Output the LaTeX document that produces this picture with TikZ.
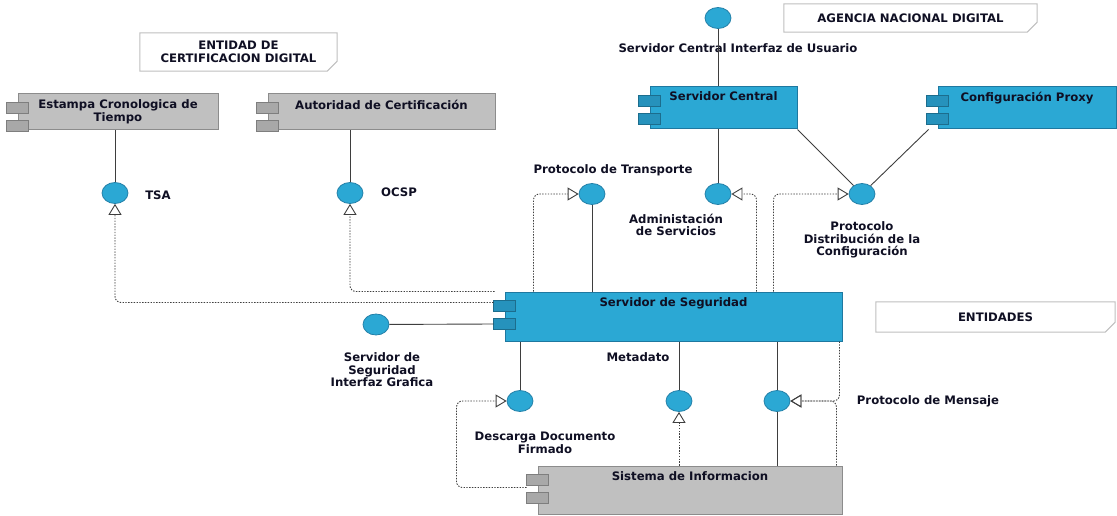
\documentclass[tikz,border=0pt]{standalone}
\usepackage{fontspec}
\setmainfont{DejaVu Sans}
\usetikzlibrary{arrows.meta, shapes.geometric}
\definecolor{CompBlue}{RGB}{43,168,212}
\definecolor{CompBlueLine}{RGB}{30,120,160}
\definecolor{PortBlue}{RGB}{38,146,188}
\definecolor{CompGray}{RGB}{192,192,192}
\definecolor{CompGrayLine}{RGB}{140,140,140}
\definecolor{PortGray}{RGB}{168,168,168}
\definecolor{IfaceLine}{RGB}{36,128,168}
\definecolor{LinkDark}{RGB}{62,62,62}
\definecolor{NoteLine}{RGB}{190,190,190}
\definecolor{TextDark}{RGB}{15,15,35}

% the two small port boxes on the left side of a component
\newcommand{\compports}[2]{%
  \draw[fill=#2, draw=#2!75!black, line width=0.8pt] ([xshift=-11pt,yshift=-9pt]#1.north west) rectangle ++(22pt,-11pt);
  \draw[fill=#2, draw=#2!75!black, line width=0.8pt] ([xshift=-11pt,yshift=-27pt]#1.north west) rectangle ++(22pt,-11pt);}
% note frame with the cut corner
\newcommand{\notecut}[1]{%
  \draw[NoteLine, line width=1pt] (#1.north west) -- (#1.north east) -- ([yshift=10pt]#1.south east) -- ([xshift=-10pt]#1.south east) -- (#1.south west) -- cycle;}

\begin{document}
\begin{tikzpicture}[x=1pt, y=-1pt,
    lbl/.style={font=\fontsize{11.7}{12.5}\selectfont\bfseries, text=TextDark, align=center, inner sep=1pt},
    bluecomp/.style={draw=CompBlueLine, fill=CompBlue, line width=1pt, inner sep=0},
    graycomp/.style={draw=CompGrayLine, fill=CompGray, line width=1pt, inner sep=0},
    iface/.style={ellipse, draw=IfaceLine, fill=CompBlue, line width=0.8pt, minimum width=26pt, minimum height=21pt, inner sep=0},
    link/.style={draw=LinkDark, line width=0.9pt},
    realize/.style={draw=LinkDark, line width=0.9pt, dash pattern=on 1.4pt off 1.4pt, rounded corners=6pt, -{Triangle[open, length=11pt, width=13pt]}},
    note/.style={lbl, minimum width=#1, minimum height=30pt}]
  \useasboundingbox (0,0) rectangle (1117,516);

  % notes
  \node[note=197pt, minimum height=38pt] (entidadNote) at (238.5,52) {ENTIDAD DE\\CERTIFICACION DIGITAL};
  \node[note=253pt, minimum height=28pt] (agenciaNote) at (910.5,18) {AGENCIA NACIONAL DIGITAL};
  \node[note=239pt] (entidadesNote) at (995.5,317) {ENTIDADES};
  \notecut{entidadNote} \notecut{agenciaNote} \notecut{entidadesNote}

  % components
  \node[graycomp, minimum width=200pt, minimum height=36pt, label={[lbl, anchor=north, yshift=-5pt]north:Estampa Cronologica de\\Tiempo}] (estampa) at (118,112) {};
  \node[graycomp, minimum width=227pt, minimum height=36pt, label={[lbl, anchor=north, yshift=-5pt]north:Autoridad de Certificación}] (autoridad) at (381.5,112) {};
  \node[bluecomp, minimum width=147pt, minimum height=42pt, label={[lbl, anchor=north, yshift=-4pt]north:Servidor Central}] (central) at (723.5,108) {};
  \node[bluecomp, minimum width=178pt, minimum height=42pt, label={[lbl, anchor=north, yshift=-4pt]north:Configuración Proxy}] (proxy) at (1027,108) {};
  \node[bluecomp, minimum width=337pt, minimum height=49pt, label={[lbl, anchor=north, yshift=-5pt]north:Servidor de Seguridad}] (seguridad) at (673.5,316.5) {};
  \node[graycomp, minimum width=304pt, minimum height=48pt, label={[lbl, anchor=north, yshift=-5pt]north:Sistema de Informacion}] (sistema) at (690,490) {};
  \compports{estampa}{PortGray} \compports{autoridad}{PortGray}
  \compports{central}{PortBlue} \compports{proxy}{PortBlue}
  \compports{seguridad}{PortBlue} \compports{sistema}{PortGray}

  % interfaces
  \node[iface] (ui) at (718,18) {};
  \node[iface] (tsa) at (115,193) {};
  \node[iface] (ocsp) at (350,193) {};
  \node[iface] (transp) at (592,194) {};
  \node[iface] (admin) at (718,194) {};
  \node[iface] (distrib) at (862,194) {};
  \node[iface] (gui) at (376,324.5) {};
  \node[iface] (descarga) at (520,401) {};
  \node[iface] (meta) at (679,401) {};
  \node[iface] (mensaje) at (777,401) {};

  % labels
  \node[lbl] (uiL) at (738,48) {Servidor Central Interfaz de Usuario};
  \node[lbl] (tsaL) at (158,195) {TSA};
  \node[lbl] (ocspL) at (399,192) {OCSP};
  \node[lbl] (transpL) at (613,170) {Protocolo de Transporte};
  \node[lbl] (adminL) at (676,225) {Administación\\de Servicios};
  \node[lbl] (distribL) at (862,240) {Protocolo\\Distribución de la\\Configuración};
  \node[lbl] (guiL) at (382,370) {Servidor de\\Seguridad\\Interfaz Grafica};
  \node[lbl] (metaL) at (638,357) {Metadato};
  \node[lbl] (descargaL) at (545,443) {Descarga Documento\\Firmado};
  \node[lbl] (mensajeL) at (928,401) {Protocolo de Mensaje};

  % provided interfaces
  \draw[link] (ui) -- (ui |- central.north);
  \draw[link] (tsa) -- (tsa |- estampa.south);
  \draw[link] (ocsp) -- (ocsp |- autoridad.south);
  \draw[link] (admin) -- (admin |- central.south);
  \draw[link] (central.south east) -- (distrib);
  \draw[link] ([xshift=-9pt]proxy.south west) -- (distrib);
  \draw[link] (transp) -- (transp |- seguridad.north);
  \draw[link] (gui) -- ([xshift=-11pt,yshift=-32.5pt]seguridad.north west);
  \draw[link] (descarga) -- (descarga |- seguridad.south);
  \draw[link] (meta) -- (meta |- seguridad.south);
  \draw[link] (mensaje) -- (mensaje |- seguridad.south);
  \draw[link] (mensaje) -- (mensaje |- sistema.north);

  % required interfaces
  \coordinate (tsaFrom) at ([xshift=-11pt,yshift=-11pt]seguridad.north west);
  \coordinate (ocspFrom) at ([xshift=-10pt]seguridad.north west);
  \coordinate (transpFrom) at ([xshift=29pt]seguridad.north west);
  \coordinate (adminFrom) at ([xshift=252pt]seguridad.north west);
  \coordinate (distribFrom) at ([xshift=269pt]seguridad.north west);
  \coordinate (descargaFrom) at ([xshift=-11pt,yshift=-22pt]sistema.north west);
  \coordinate (mensajeFromA) at ([xshift=-3pt]seguridad.south east);
  \coordinate (mensajeFromB) at ([xshift=-6pt]sistema.north east);
  \draw[realize] (tsaFrom) -| (tsa.south);
  \draw[realize] (ocspFrom) -| (ocsp.south);
  \draw[realize] (transpFrom) |- (transp.west);
  \draw[realize] (adminFrom) |- (admin.east);
  \draw[realize] (distribFrom) |- (distrib.west);
  \draw[realize] (descargaFrom) -- ++(-70pt,0pt) |- (descarga.west);
  \draw[realize] (meta |- sistema.north) -- (meta.south);
  \draw[realize] (mensajeFromA) |- (mensaje.east);
  \draw[realize] (mensajeFromB) |- (mensaje.east);
\end{tikzpicture}
\end{document}
